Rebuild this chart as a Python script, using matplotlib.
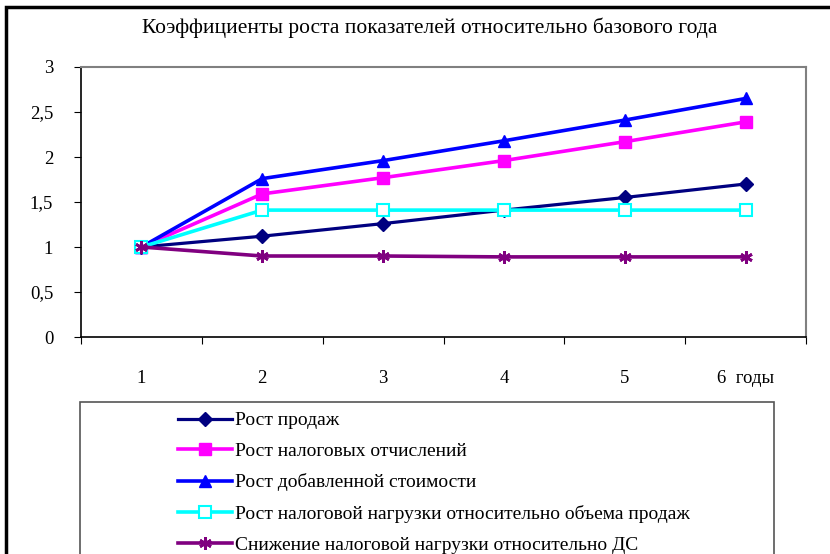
import matplotlib
matplotlib.use("Agg")
import matplotlib.pyplot as plt
from matplotlib.patches import Rectangle

plt.rcParams['font.family'] = ['Liberation Serif', 'DejaVu Serif']

years = [1, 2, 3, 4, 5, 6]
x_labels = ['1', '2', '3', '4', '5', '6  годы']
y_ticks = [0, 0.5, 1, 1.5, 2, 2.5, 3]
y_labels = ['0', '0,5', '1', '1,5', '2', '2,5', '3']

sales = [1.0, 1.12, 1.26, 1.41, 1.55, 1.70]
taxes = [1.0, 1.59, 1.77, 1.96, 2.17, 2.39]
added_value = [1.0, 1.76, 1.96, 2.18, 2.41, 2.65]
tax_load_sales = [1.0, 1.41, 1.41, 1.41, 1.41, 1.41]
tax_load_ds = [1.0, 0.90, 0.90, 0.89, 0.89, 0.89]

names = ['Рост продаж',
         'Рост налоговых отчислений',
         'Рост добавленной стоимости',
         'Рост налоговой нагрузки относительно объема продаж',
         'Снижение налоговой нагрузки относительно ДС']

title = 'Коэффициенты роста показателей относительно базового года'

fig = plt.figure(figsize=(8.3, 5.54), dpi=100)
ax = fig.add_axes([81/830, 1-337/554, (806-81)/830, (337-67)/554])

ax.plot(years, sales, color='#000080', lw=2.3, marker='D', ms=7,
        label=names[0])
ax.plot(years, taxes, color='#FF00FF', lw=2.6, marker='s', ms=8,
        label=names[1])
ax.plot(years, added_value, color='#0000FF', lw=2.6, marker='^', ms=9,
        label=names[2])
ax.plot(years, tax_load_sales, color='#00FFFF', lw=2.6, marker='s', ms=8,
        mfc='white', mec='#00FFFF', mew=1.5, label=names[3])
ax.plot(years, tax_load_ds, color='#800080', lw=2.6, marker=(6, 2, 0), ms=9,
        mew=2, label=names[4])

ax.set_xlim(0.5, 6.5)
ax.set_ylim(0, 3)
ax.set_xticks([0.5 + i for i in range(7)])
ax.set_xticklabels([])
ax.set_xticks(years, minor=True)
ax.set_xticklabels(x_labels, minor=True)
ax.tick_params(axis='x', which='minor', length=0, pad=24, labelsize=13.5)
ax.tick_params(axis='x', which='major', direction='out', length=5)
ax.set_yticks(y_ticks)
ax.set_yticklabels(y_labels)
ax.tick_params(axis='y', direction='out', length=5, pad=15, labelsize=13.5)

for s in ['top', 'right']:
    ax.spines[s].set_color('#808080')
    ax.spines[s].set_linewidth(1.5)
for s in ['left', 'bottom']:
    ax.spines[s].set_color('black')
    ax.spines[s].set_linewidth(1.2)

fig.text(430/830, 1-28/554, title, ha='center', va='center', fontsize=15.5)

# outer frame of the chart area (left and top edges visible)
fig.patches.append(Rectangle((6/830, -0.1), 1.2, 1-7/554+0.1, fill=False,
                             ec='black', lw=2.5, transform=fig.transFigure))
# legend box
fig.patches.append(Rectangle((80/830, -0.1), (774-80)/830, 1-402/554+0.1,
                             fill=False, ec='#555555', lw=1.2,
                             transform=fig.transFigure))

fig.legend(loc='upper left', bbox_to_anchor=(170/830, 1-404/554),
           frameon=False, fontsize=14, handlelength=2.8, handletextpad=0.15,
           labelspacing=0.68, borderaxespad=0)

fig.savefig('out.png', dpi=100)
